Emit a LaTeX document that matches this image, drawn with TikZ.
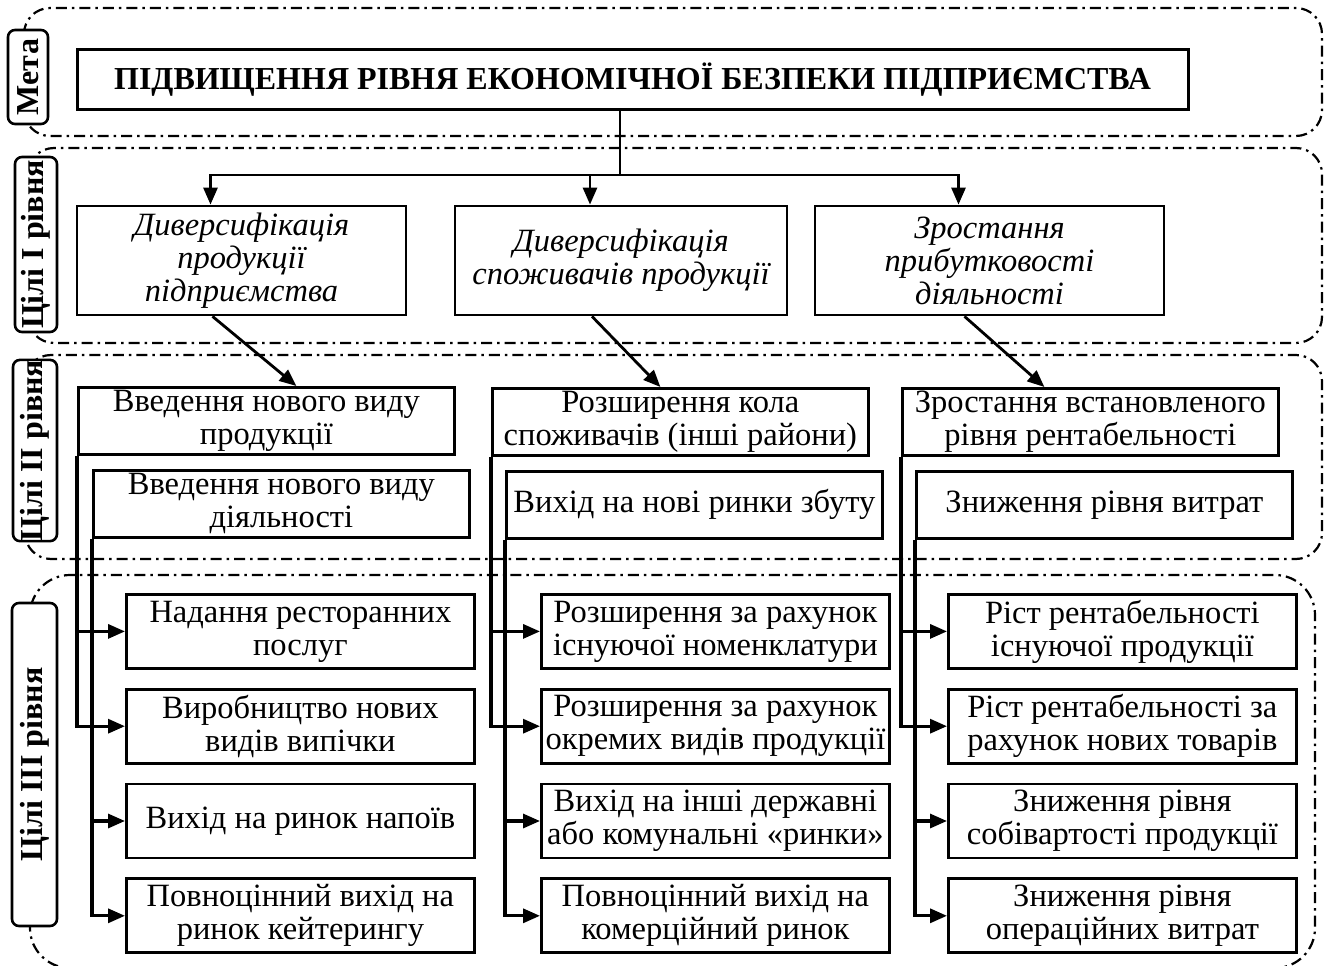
\documentclass[tikz,border=0pt]{standalone}
\usepackage{fontspec}
\setmainfont{Liberation Serif}
\usetikzlibrary{positioning,arrows.meta}
\tikzset{
  band/.style={draw, line width=2.2pt, rounded corners=26pt,
               dash pattern=on 11pt off 5pt on 2.5pt off 5pt},
  lbl/.style={draw, fill=white, rounded corners=7pt, line width=2.6pt, rotate=90,
              inner sep=0pt, font=\fontsize{32}{32}\selectfont\bfseries},
  blk/.style={draw, fill=white, line width=2.8pt, align=center, inner sep=2pt,
              font=\fontsize{32.5}{33}\selectfont},
  goalbox/.style={blk, line width=3pt, minimum width=1111pt, minimum height=59pt,
                  font=\fontsize{32}{32}\selectfont\bfseries},
  aim/.style={blk, minimum height=109pt, font=\fontsize{32.5}{33}\selectfont\itshape},
  lvl2/.style={blk, anchor=north west, minimum width=376pt, minimum height=67pt},
  lvl3/.style={blk, minimum width=348pt, minimum height=74pt},
  flow/.style={-{Triangle[length=17pt,width=14pt]}, line width=3.2pt},
  link/.style={-{Triangle[length=17pt,width=14pt]}, line width=2.8pt},
}
\begin{document}
\begin{tikzpicture}[x=1pt, y=-1pt, node distance=18pt]
  \useasboundingbox (0,0) rectangle (1326,966);
  % levels
  \draw[band] (24,8) rectangle (1322,136);
  \draw[band] (28,148) rectangle (1322,343);
  \draw[band] (25,355) rectangle (1322,559);
  \draw[band, rounded corners=40pt] (30,575) rectangle (1315,968);
  \node[lbl, minimum width=94pt, minimum height=40pt] (lmeta) at (28,77) {Мета};
  \node[lbl, minimum width=175pt, minimum height=42pt] (lone) at (36,244.5) {Цілі I рівня};
  \node[lbl, minimum width=175pt, minimum height=44pt] (ltwo) at (35,450.5) {Цілі II рівня};
  \node[lbl, minimum width=323pt, minimum height=45pt] (lthree) at (34.5,764.5) {Цілі III рівня};

  \node[goalbox] (goal) at (632.5,79.5) {ПІДВИЩЕННЯ РІВНЯ ЕКОНОМІЧНОЇ БЕЗПЕКИ ПІДПРИЄМСТВА};

  \node[aim, minimum width=329pt] (g1) at (241.5,260.5) {Диверсифікація\\продукції\\підприємства};
  \node[aim, minimum width=332pt] (g2) at (621,260.5) {Диверсифікація\\споживачів продукції};
  \node[aim, minimum width=349pt] (g3) at (989.5,260.5) {Зростання\\прибутковості\\діяльності};

  \node[lvl2] (a1) at (77,386) {Введення нового виду\\продукції};
  \node[lvl2, below right=13pt and 15pt of a1.south west] (a2) {Введення нового виду\\діяльності};
  \node[lvl2] (b1) at (491,387) {Розширення кола\\споживачів (інші райони)};
  \node[lvl2, below right=13pt and 14pt of b1.south west] (b2) {Вихід на нові ринки збуту};
  \node[lvl2] (c1) at (901,387) {Зростання встановленого\\рівня рентабельності};
  \node[lvl2, below right=13pt and 14pt of c1.south west] (c2) {Зниження рівня витрат};

  \node[lvl3, anchor=north west] (ta1) at (125,593) {Надання ресторанних\\послуг};
  \node[lvl3, below=of ta1] (ta2) {Виробництво нових\\видів випічки};
  \node[lvl3, below=of ta2] (ta3) {Вихід на ринок напоїв};
  \node[lvl3, below=of ta3] (ta4) {Повноцінний вихід на\\ринок кейтерингу};
  \node[lvl3, anchor=north west] (tb1) at (540,593) {Розширення за рахунок\\існуючої номенклатури};
  \node[lvl3, below=of tb1] (tb2) {Розширення за рахунок\\окремих видів продукції};
  \node[lvl3, below=of tb2] (tb3) {Вихід на інші державні\\або комунальні «ринки»};
  \node[lvl3, below=of tb3] (tb4) {Повноцінний вихід на\\комерційний ринок};
  \node[lvl3, anchor=north west] (tc1) at (947,593) {Ріст рентабельності\\існуючої продукції};
  \node[lvl3, below=of tc1] (tc2) {Ріст рентабельності за\\рахунок нових товарів};
  \node[lvl3, below=of tc2] (tc3) {Зниження рівня\\собівартості продукції};
  \node[lvl3, below=of tc3] (tc4) {Зниження рівня\\операційних витрат};

  \coordinate (hub) at (620,175);
  \draw[line width=2.8pt] (hub |- goal.south) -- (hub);
  \foreach \g in {g1,g2,g3}
    \draw[link] (hub) -| ([xshift=-31pt]\g.north);
  \foreach \u/\v/\du/\dv in {g1/a1/-29/30, g2/b1/-29/-20, g3/c1/-25/-46}
    \draw[link] ([xshift=\du pt]\u.south) -- ([xshift=\dv pt]\v.north);
  \foreach \s/\t in {a1/ta1, a1/ta2, a2/ta3, a2/ta4, b1/tb1, b1/tb2, b2/tb3, b2/tb4,
                     c1/tc1, c1/tc2, c2/tc3, c2/tc4}
    \draw[flow] (\s.south west) |- (\t.west);
\end{tikzpicture}
\end{document}
